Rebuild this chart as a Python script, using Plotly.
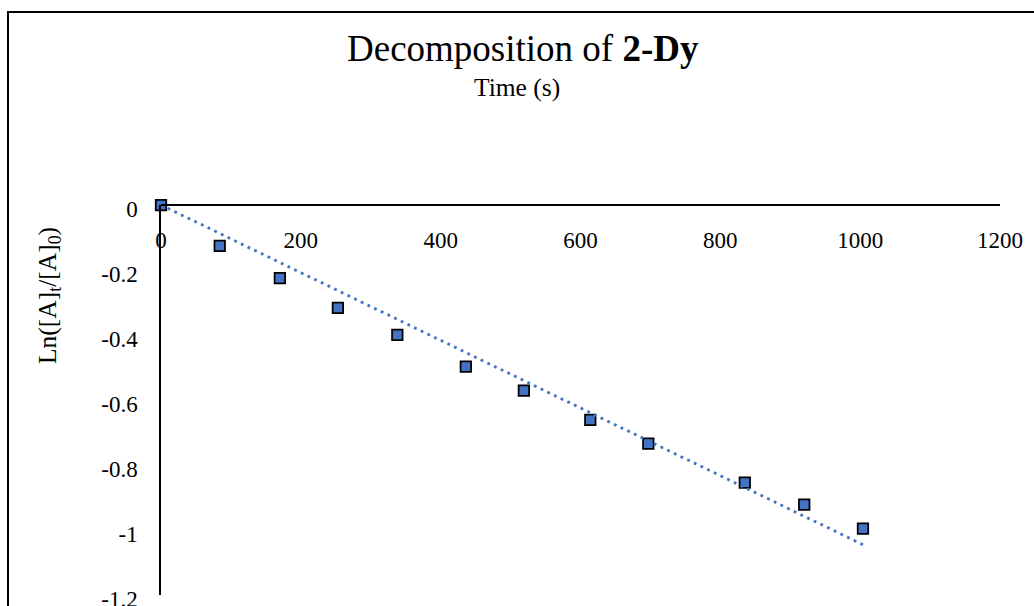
import numpy as np
import plotly.graph_objects as go

# ---- data ----
time_s = [0, 84, 170, 253, 338, 436, 519, 614, 697, 835, 920, 1004]
ln_ratio = [0.0, -0.126, -0.225, -0.317, -0.400, -0.498, -0.572, -0.662, -0.735, -0.855, -0.923, -0.997]

x_ticks = [0, 200, 400, 600, 800, 1000, 1200]
x_ticktext = ["0", "200", "400", "600", "800", "1000", "1200"]
y_ticks = [0, -0.2, -0.4, -0.6, -0.8, -1.0, -1.2]
y_ticktext = ["0", "-0.2", "-0.4", "-0.6", "-0.8", "-1", "-1.2"]

title_text = "Decomposition of <b>2-Dy</b>"
x_title = "Time (s)"
y_title = "Ln([A]<sub>t</sub>/[A]<sub>0</sub>)"

# ---- linear trendline through origin (least squares) ----
xa = np.array(time_s, dtype=float)
ya = np.array(ln_ratio, dtype=float)
slope = float((xa * ya).sum() / (xa * xa).sum())
trend_x = [0.0, float(xa.max())]
trend_y = [slope * v for v in trend_x]

FONT = "Liberation Serif, Times New Roman, serif"
BLUE = "#4472C4"

W, H = 1034, 606
L, R, T, B = 161, 34, 205, 11
pw, ph = W - L - R, H - T - B


def px_x(p):
    return (p - L) / pw


def px_y(p):
    return (H - B - p) / ph


fig = go.Figure()
fig.add_trace(go.Scatter(
    x=time_s, y=ln_ratio, mode="markers", cliponaxis=False,
    marker=dict(symbol="square", size=10.5, color=BLUE,
                line=dict(color="black", width=1.75)),
    showlegend=False,
))
fig.add_trace(go.Scatter(
    x=trend_x, y=trend_y, mode="lines", cliponaxis=False,
    line=dict(color=BLUE, width=2.8, dash="2.8px,4.6px"),
    showlegend=False,
))

fig.update_layout(
    width=W, height=H, autosize=False,
    margin=dict(l=L, r=R, t=T, b=B, pad=0, autoexpand=False),
    paper_bgcolor="white", plot_bgcolor="white",
    font=dict(family=FONT, color="black", size=23),
    xaxis=dict(
        range=[0, 1200], anchor="free", position=1, side="bottom",
        automargin=False, ticklabeloverflow="allow",
        tickvals=x_ticks, ticktext=x_ticktext,
        showline=True, linecolor="black", linewidth=2,
        ticks="outside", ticklen=14, tickcolor="rgba(0,0,0,0)",
        showgrid=False, zeroline=False,
        tickfont=dict(family=FONT, size=23, color="black"),
    ),
    yaxis=dict(
        range=[-1.2015, 0],
        automargin=False, ticklabeloverflow="allow",
        tickvals=y_ticks, ticktext=y_ticktext,
        showline=True, linecolor="black", linewidth=1.5,
        ticks="outside", ticklen=17, tickcolor="rgba(0,0,0,0)",
        ticklabelshift=4,
        showgrid=False, zeroline=False,
        tickfont=dict(family=FONT, size=23, color="black"),
    ),
    annotations=[
        dict(text=title_text, xref="paper", yref="paper",
             x=px_x(523), y=px_y(48), xanchor="center", yanchor="middle",
             showarrow=False, font=dict(family=FONT, size=37, color="black")),
        dict(text=x_title, xref="paper", yref="paper",
             x=px_x(517), y=px_y(88), xanchor="center", yanchor="middle",
             showarrow=False, font=dict(family=FONT, size=25.5, color="black")),
        dict(text=y_title, xref="paper", yref="paper", textangle=-90,
             x=px_x(49), y=px_y(296), xanchor="center", yanchor="middle",
             showarrow=False, font=dict(family=FONT, size=25.5, color="black")),
    ],
    shapes=[
        dict(type="line", xref="paper", yref="paper",
             x0=px_x(8), y0=px_y(620), x1=px_x(8), y1=px_y(12),
             line=dict(color="black", width=2)),
        dict(type="line", xref="paper", yref="paper",
             x0=px_x(7), y0=px_y(12), x1=px_x(1045), y1=px_y(12),
             line=dict(color="black", width=2)),
    ],
)

fig.write_html("out.html")
